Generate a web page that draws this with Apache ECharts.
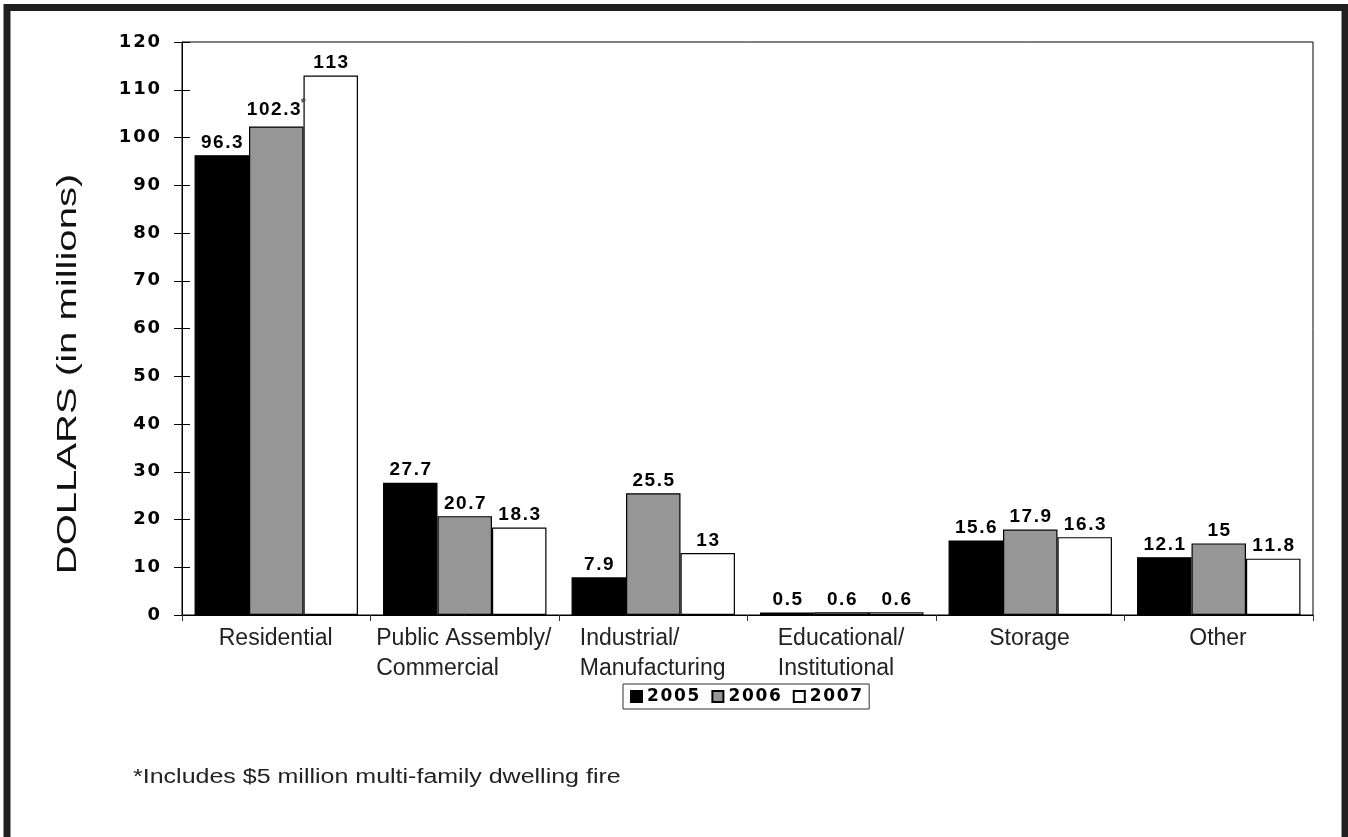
<!DOCTYPE html>
<html>
<head>
<meta charset="utf-8">
<script src="https://cdn.jsdelivr.net/npm/echarts@6/dist/echarts.min.js"></script>
<style>
html,body{margin:0;padding:0;background:#fff;}
#chart{width:1348px;height:837px;}
</style>
</head>
<body>
<div id="chart"></div>
<script>
const categories = ['Residential', 'Public Assembly/\nCommercial', 'Industrial/\nManufacturing', 'Educational/\nInstitutional', 'Storage', 'Other'];
const years = ['2005', '2006', '2007'];
const values2005 = [96.3, 27.7, 7.9, 0.5, 15.6, 12.1];
const values2006 = [102.3, 20.7, 25.5, 0.6, 17.9, 15];
const values2007 = [113, 18.3, 13, 0.6, 16.3, 11.8];
const notes2006 = ['*', '', '', '', '', ''];
const yTicks = [0, 10, 20, 30, 40, 50, 60, 70, 80, 90, 100, 110, 120];
const yTitle = 'DOLLARS (in millions)';
const footnote = '*Includes $5 million multi-family dwelling fire';

const FF = '"Liberation Sans", Arial, Helvetica, sans-serif';
const FB = '"DejaVu Sans", "Liberation Sans", sans-serif';
const colors = ['#000000', '#969696', '#ffffff'];

// category label rich styles: lines left-aligned inside a centred block
const catFontSize = 23;
const mctx = document.createElement('canvas').getContext('2d');
mctx.font = catFontSize + 'px ' + FF;
const rich = {};
categories.forEach((c, i) => {
  const w = Math.max(...c.split('\n').map(l => mctx.measureText(l).width));
  rich['c' + i] = { width: Math.ceil(w) + 1, align: 'left', fontSize: catFontSize, lineHeight: 30, color: '#222', fontFamily: FF };
});

const chart = echarts.init(document.getElementById('chart'));

const seriesData = [values2005, values2006, values2007];
const series = seriesData.map((vals, si) => ({
  name: years[si],
  type: 'bar',
  data: vals,
  barGap: '0%',
  barCategoryGap: '13.3%',
  itemStyle: { color: colors[si], borderColor: '#000', borderWidth: 1.2 },
  label: {
    show: true,
    position: 'top',
    distance: 3,
    color: '#000',
    fontWeight: 'bold',
    fontSize: 19,
    fontFamily: FF,
    formatter: (p) => {
      const t = String(p.value).split('').join('\u200A');
      const note = si === 1 ? notes2006[p.dataIndex] : '';
      return note ? '{v|' + t + '}{s|' + note + '}' : '{v|' + t + '}';
    },
    rich: {
      v: { fontWeight: 'bold', fontSize: 19, fontFamily: FF, color: '#000' },
      s: { fontSize: 13, fontFamily: FF, color: '#444', verticalAlign: 'top', padding: [0, 0, 14, 0] }
    }
  }
}));

const yMin = yTicks[0], yMax = yTicks[yTicks.length - 1], yInt = yTicks[1] - yTicks[0];

chart.setOption({
  animation: false,
  backgroundColor: '#fff',
  grid: { left: 182, right: 35, top: 42, bottom: 222, show: true, borderColor: '#000', borderWidth: 1, backgroundColor: 'transparent' },
  legend: {
    data: years,
    left: 623,
    top: 684,
    orient: 'horizontal',
    icon: 'rect',
    itemWidth: 11,
    itemHeight: 11,
    itemGap: 12,
    padding: [4, 7, 4, 7],
    borderColor: '#333',
    borderWidth: 1,
    formatter: (name) => name.split('').join('\u200A'),
    textStyle: { fontWeight: 'bold', fontSize: 17, fontFamily: FB, color: '#000' }
  },
  xAxis: {
    type: 'category',
    data: categories,
    axisLine: { lineStyle: { color: '#000', width: 1 } },
    axisTick: { show: true, length: 6, alignWithLabel: false, lineStyle: { color: '#333' } },
    axisLabel: {
      interval: 0,
      margin: 9,
      formatter: (value, index) => value.split('\n').map(l => '{c' + index + '|' + l + '}').join('\n'),
      rich: rich
    }
  },
  yAxis: [{
    type: 'value',
    min: yMin, max: yMax, interval: yInt,
    axisLine: { show: true, lineStyle: { color: '#000', width: 1 } },
    axisTick: { show: true, length: 8, lineStyle: { color: '#000' } },
    splitLine: { show: false },
    axisLabel: {
      margin: 22,
      color: '#000',
      fontWeight: 'bold',
      fontSize: 18,
      fontFamily: FB,
      formatter: (v) => String(v).split('').join('\u200A')
    }
  }, {
    type: 'value',
    position: 'left',
    offset: 0,
    min: yMin, max: yMax, interval: yInt,
    axisLine: { show: false },
    axisTick: { show: true, inside: true, length: 8, lineStyle: { color: '#000' } },
    splitLine: { show: false },
    axisLabel: { show: false }
  }],
  series: series,
  graphic: [
    {
      type: 'rect',
      silent: true,
      shape: { x: 7, y: 7.5, width: 1338, height: 900 },
      style: { fill: 'transparent', stroke: '#231f20', lineWidth: 7 }
    },
    {
      type: 'text',
      silent: true,
      x: 68, y: 374,
      rotation: Math.PI / 2,
      scaleX: 1.43,
      style: { text: yTitle, fill: '#111', font: '28px ' + FF, align: 'center', verticalAlign: 'middle' }
    },
    {
      type: 'text',
      silent: true,
      x: 133, y: 777,
      scaleX: 1.25,
      style: { text: footnote, fill: '#222', font: '20px ' + FF, align: 'left', verticalAlign: 'middle' }
    }
  ]
});
</script>
</body>
</html>
